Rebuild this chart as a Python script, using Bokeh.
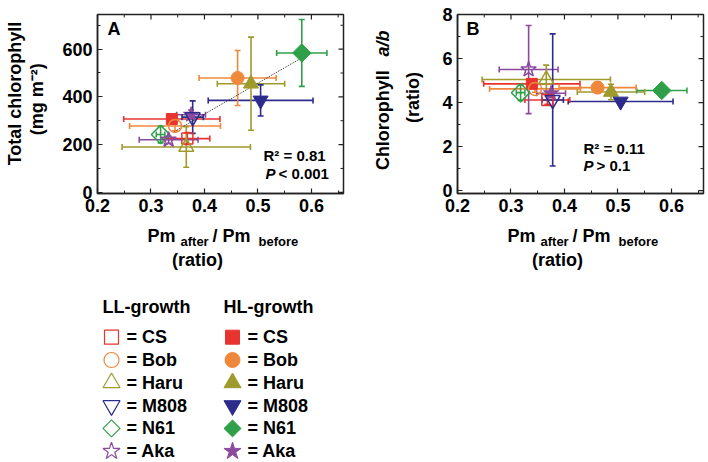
import numpy as np
from bokeh.plotting import figure
from bokeh.layouts import column, row
from bokeh.models import Range1d, Label, FixedTicker, ColumnDataSource
from bokeh.core.properties import value
from bokeh.embed import file_html
from bokeh.resources import INLINE

# ---------------- data ----------------
strains = ["CS", "Bob", "Haru", "M808", "N61", "Aka"]

pm_ratio_LL = [0.368, 0.345, 0.366, 0.378, 0.318, 0.333]
pm_ratio_LL_err = [0.042, 0.085, 0.12, 0.02, 0.008, 0.055]
pm_ratio_HL = [0.339, 0.462, 0.487, 0.505, 0.582, 0.375]
pm_ratio_HL_err = [0.09, 0.072, 0.063, 0.098, 0.047, 0.027]

total_chl_LL = [225, 278, 190, 315, 242, 220]
total_chl_LL_err = [25, 20, 85, 68, 35, 15]
total_chl_HL = [307, 479, 455, 385, 584, 325]
total_chl_HL_err = [12, 115, 195, 65, 140, 20]

chl_ab_LL = [4.12, 4.62, 5.05, 4.12, 4.45, 5.5]
chl_ab_LL_err = [0.2, 0.15, 0.65, 3.0, 0.35, 2.0]
chl_ab_HL = [4.85, 4.68, 4.48, 4.05, 4.55, 4.42]
chl_ab_HL_err = [0.2, 0.25, 0.35, 0.1, 0.12, 0.2]

x_range_AB = (0.2, 0.66)
x_ticks = [0.2, 0.3, 0.4, 0.5, 0.6]
x_minor = [0.25, 0.35, 0.45, 0.55, 0.65]
yA_range = (-5, 745)
yA_ticks = [0, 200, 400, 600]
yA_minor = [100, 300, 500, 700]
yB_range = (-0.13, 8.0)
yB_ticks = [0, 2, 4, 6, 8]
yB_minor = [1, 3, 5, 7]
fit_x_span = [0.343, 0.582]

stats_A = ["R\u00b2 = 0.81", "< 0.001"]
stats_B = ["R\u00b2 = 0.11", "> 0.1"]

# ---------------- styles ----------------
FONT = "Liberation Sans"
colors = ["#E8332F", "#F0883C", "#9F9A2C", "#2D2B8C", "#2FA048", "#8C4A9F"]
markers = ["square", "circle", "triangle", "inverted_triangle", "square", "star"]
marker_angles = [0, 0, 0, 0, np.pi / 4, 0]
marker_sizes = [11, 13, 15, 15, 13, 16]
legend_sizes = [14, 15, 17, 17, 12, 18]
INK = "#222222"

TOP_H = 222
FRAME_TOP = 14
FRAME_H = 179


def style_axis(ax):
    ax.axis_line_color = INK
    ax.axis_line_width = 1.5
    ax.major_tick_in = 5
    ax.major_tick_out = 0
    ax.minor_tick_in = 3
    ax.minor_tick_out = 0
    ax.major_tick_line_color = INK
    ax.minor_tick_line_color = INK
    ax.major_tick_line_width = 1.2
    ax.minor_tick_line_width = 1.0
    ax.major_label_text_font = FONT
    ax.major_label_text_font_style = "bold"
    ax.major_label_text_font_size = "18px"
    ax.major_label_text_color = "black"
    ax.major_label_standoff = 5


def make_panel(width, bl, br, yr, ymaj, ymin):
    p = figure(width=width, height=TOP_H, x_range=Range1d(*x_range_AB), y_range=Range1d(*yr),
               output_backend="svg", toolbar_location=None,
               min_border_left=bl, min_border_right=br, min_border_top=FRAME_TOP,
               min_border_bottom=TOP_H - FRAME_TOP - FRAME_H)
    p.grid.visible = False
    p.outline_line_color = INK
    p.outline_line_width = 1.5
    p.background_fill_color = "white"
    p.border_fill_color = "white"
    p.xaxis[0].ticker = FixedTicker(ticks=x_ticks, minor_ticks=x_ticks + x_minor)
    p.yaxis[0].ticker = FixedTicker(ticks=ymaj, minor_ticks=ymaj + ymin)
    style_axis(p.xaxis[0])
    style_axis(p.yaxis[0])
    # mirrored inward ticks on the top and right edges (half of each dash is clipped)
    p.scatter(x=x_ticks, y=[yr[1]] * len(x_ticks), marker="dash", angle=np.pi / 2, size=10,
              line_color=INK, line_width=1.2)
    p.scatter(x=x_minor, y=[yr[1]] * len(x_minor), marker="dash", angle=np.pi / 2, size=6,
              line_color=INK, line_width=1.0)
    p.scatter(x=[x_range_AB[1]] * len(ymaj), y=ymaj, marker="dash", size=10,
              line_color=INK, line_width=1.2)
    p.scatter(x=[x_range_AB[1]] * len(ymin), y=ymin, marker="dash", size=6,
              line_color=INK, line_width=1.0)
    return p


def draw_points(p, yLL, yLLerr, yHL, yHLerr):
    groups = []
    for xs, xe, ys, ye, filled in [(pm_ratio_HL, pm_ratio_HL_err, yHL, yHLerr, True),
                                   (pm_ratio_LL, pm_ratio_LL_err, yLL, yLLerr, False)]:
        xs = np.array(xs, float); xe = np.array(xe, float)
        ys = np.array(ys, float); ye = np.array(ye, float)
        src = ColumnDataSource(dict(x=xs, y=ys, xl=xs - xe, xr=xs + xe, yl=ys - ye, yu=ys + ye,
                                    color=colors, marker=markers, angle=marker_angles,
                                    size=[s * 1.0 for s in marker_sizes]))
        groups.append((src, filled))
    for src, filled in groups:
        p.segment(x0="xl", y0="y", x1="xr", y1="y", line_color="color", line_width=1.6, source=src)
        p.segment(x0="x", y0="yl", x1="x", y1="yu", line_color="color", line_width=1.6, source=src)
        for cx in ["xl", "xr"]:
            p.scatter(x=cx, y="y", marker="dash", angle=np.pi / 2, size=6, line_color="color",
                      line_width=1.6, source=src)
        for cy in ["yl", "yu"]:
            p.scatter(x="x", y=cy, marker="dash", size=6, line_color="color", line_width=1.6, source=src)
    return groups


def draw_markers(p, groups):
    for src, filled in groups:
        if filled:
            p.scatter(x="x", y="y", marker="marker", angle="angle", size="size", line_color="color",
                      fill_color="color", line_width=1, source=src)
        else:
            p.scatter(x="x", y="y", marker="marker", angle="angle", size="size", line_color="color",
                      fill_color=None, line_width=1.5, source=src)


def lab(p, fl, fb, text, px, py, size=15, style="bold"):
    # (px, py): page position of the text's left edge / vertical middle
    p.add_layout(Label(x=px - fl, y=fb - py, x_units="screen", y_units="screen", text=text,
                       text_font=FONT, text_font_size=f"{size}px", text_font_style=style,
                       text_align="left", text_baseline="middle", text_color="black"))


def strip(width, height):
    s = figure(width=width, height=height, x_range=Range1d(0, width), y_range=Range1d(0, height),
               output_backend="svg", toolbar_location=None, min_border=0,
               x_axis_location=None, y_axis_location=None)
    s.grid.visible = False
    s.outline_line_color = None
    s.background_fill_color = "white"
    s.border_fill_color = "white"
    return s


def txt(s, x0, y0, h, texts, xs, ys, size=18, style="bold", align="left", angle=0.0):
    # xs, ys are page pixel positions (vertical middle); (x0, y0) is the strip's top-left page position
    s.text(x=[x - x0 for x in xs], y=[h - (y - y0) for y in ys], text=texts, angle=angle,
           text_font=value(FONT), text_font_style=style, text_font_size=f"{size}px",
           text_align=align, text_baseline="middle", text_color="black")


# ---------------- Panel A ----------------
pA = make_panel(305, 42, 17, yA_range, yA_ticks, yA_minor)
gA = draw_points(pA, total_chl_LL, total_chl_LL_err, total_chl_HL, total_chl_HL_err)
all_x = np.array(pm_ratio_LL + pm_ratio_HL, float)
all_y = np.array(total_chl_LL + total_chl_HL, float)
slope, icpt = np.polyfit(all_x, all_y, 1)
fx = np.array(fit_x_span)
pA.line(fx, slope * fx + icpt, line_color="#333333", line_width=1, line_dash="1 1")
draw_markers(pA, gA)
FA_L, FA_B = 97, 193
lab(pA, FA_L, FA_B, "A", 107, 28.5, size=18)
lab(pA, FA_L, FA_B, stats_A[0], 263, 155)
lab(pA, FA_L, FA_B, "P", 265, 173, style="bold italic")
lab(pA, FA_L, FA_B, stats_A[1], 278, 173)

# ---------------- Panel B ----------------
pB = make_panel(280, 29, 5, yB_range, yB_ticks, yB_minor)
gB = draw_points(pB, chl_ab_LL, chl_ab_LL_err, chl_ab_HL, chl_ab_HL_err)
draw_markers(pB, gB)
FB_L, FB_B = 457, 193
lab(pB, FB_L, FB_B, "B", 466, 28, size=18)
lab(pB, FB_L, FB_B, stats_B[0], 583, 147.5)
lab(pB, FB_L, FB_B, "P", 583, 164.5, style="bold italic")
lab(pB, FB_L, FB_B, stats_B[1], 596, 164.5)

# ---------------- axis-title strips ----------------
sYA = strip(55, TOP_H)
txt(sYA, 0, 0, TOP_H, ["Total chlorophyll", "(mg m\u207b\u00b2)"], [14, 36], [98, 105],
    align="center", angle=np.pi / 2)

sYB = strip(68, TOP_H)
txt(sYB, 360, 0, TOP_H, ["Chlorophyll", "(ratio)"], [382, 412], [131, 103],
    align="center", angle=np.pi / 2)
txt(sYB, 360, 0, TOP_H, ["a/b"], [382], [36], style="bold italic", align="center", angle=np.pi / 2)

X_H = 48
sX = strip(708, X_H)
txt(sX, 0, TOP_H, X_H, ["Pm", "/ Pm", "Pm", "/ Pm"], [147, 212, 507, 572], [235, 235, 235, 235])
txt(sX, 0, TOP_H, X_H, ["after", "before", "after", "before"], [180, 258, 540, 618],
    [241, 241, 241, 241], size=13)
txt(sX, 0, TOP_H, X_H, ["(ratio)", "(ratio)"], [197, 557], [259, 259], align="center")

# ---------------- Legend ----------------
LEG_Y0 = TOP_H + X_H
LEG_H = 462 - LEG_Y0
pL = strip(708, LEG_H)
row_y = [336.7 + 22.8 * i for i in range(len(strains))]
txt(pL, 0, LEG_Y0, LEG_H, ["LL-growth", "HL-growth"], [102, 223], [306.7, 306.7])
for mx, tx, filled in [(111, 126, False), (232, 247, True)]:
    src = ColumnDataSource(dict(x=[mx] * len(strains), y=[LEG_H - (y - LEG_Y0) for y in row_y],
                                marker=markers, angle=marker_angles,
                                size=legend_sizes, color=colors))
    if filled:
        pL.scatter(x="x", y="y", marker="marker", angle="angle", size="size", line_color="color",
                   fill_color="color", line_width=1, source=src)
    else:
        pL.scatter(x="x", y="y", marker="marker", angle="angle", size="size", line_color="color",
                   fill_color=None, line_width=1.2, source=src)
    txt(pL, 0, LEG_Y0, LEG_H, ["= " + s for s in strains], [tx] * len(strains), row_y)

layout = column(row(sYA, pA, sYB, pB), sX, pL)
open("out.html", "w").write(file_html(layout, INLINE))
